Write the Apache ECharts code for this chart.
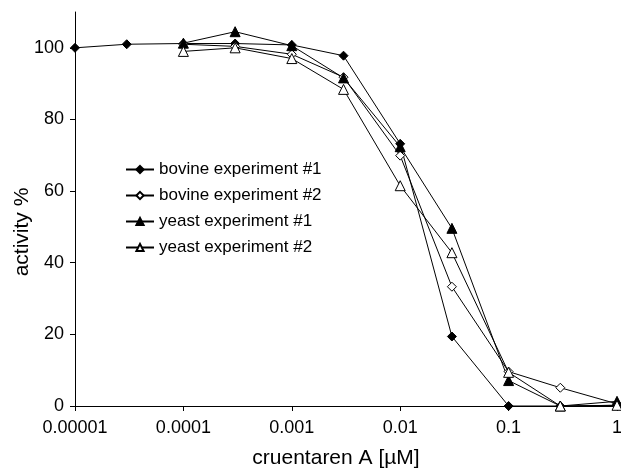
<!DOCTYPE html>
<html>
<head>
<meta charset="utf-8">
<script src="https://cdn.jsdelivr.net/npm/echarts@6/dist/echarts.min.js"></script>
<style>
  html, body { margin: 0; padding: 0; background: #fff; }
  #main { width: 621px; height: 470px; }
</style>
</head>
<body>
<div id="main"></div>
<script>
// concentrations (µM)
var conc = [0.00001, 0.00003, 0.0001, 0.0003, 0.001, 0.003, 0.01, 0.03, 0.1, 0.3, 1];
var bovine1 = [100, 101, 101.2, 101.2, 100.8, 97.8, 73.2, 19.4, 0, 0, 0.2];
var bovine2 = [null, null, 101, 100.4, 98.2, 91.8, 69.9, 33.3, 9.6, 5.1, 0.6];
var yeast1  = [null, null, 101.3, 104.5, 100.6, 91.6, 72.4, 49.6, 7.1, 0, 1.3];
var yeast2  = [null, null, 99, 100, 97, 88.4, 61.5, 42.8, 9.4, 0, 0.2];
var yTicks = [0, 20, 40, 60, 80, 100];

function pairs(vals) {
    var out = [];
    for (var i = 0; i < conc.length; i++) {
        if (vals[i] !== null) out.push([conc[i], vals[i]]);
    }
    return out;
}

var chart = echarts.init(document.getElementById('main'));
var font = 'Liberation Sans, Arial, sans-serif';

function mkSeries(name, vals, symbol, filled) {
    return {
        name: name,
        type: 'line',
        data: pairs(vals),
        symbol: symbol,
        symbolSize: symbol === 'diamond' ? 9 : 10,
        showAllSymbol: true,
        lineStyle: { color: '#000', width: 1 },
        itemStyle: { color: filled ? '#000' : '#fff', borderColor: '#000', borderWidth: 1 },
        emphasis: { disabled: true },
        animation: false
    };
}

var option = {
    animation: false,
    grid: { left: 75, right: 4, top: 12, bottom: 64, containLabel: false, outerBoundsMode: 'none' },
    legend: {
        orient: 'vertical',
        left: 120,
        top: 156,
        itemGap: 9,
        itemWidth: 28,
        itemHeight: 9,
        textStyle: { fontFamily: font, fontSize: 17, color: '#000' },
        data: ['bovine experiment #1', 'bovine experiment #2', 'yeast experiment #1', 'yeast experiment #2']
    },
    xAxis: {
        type: 'log',
        logBase: 10,
        min: 0.00001,
        max: 1,
        name: 'cruentaren A [µM]',
        nameLocation: 'middle',
        nameGap: 42,
        nameMoveOverlap: false,
        nameTextStyle: { fontFamily: font, fontSize: 21, color: '#000', padding: [0, 20, 0, 0] },
        axisLine: { lineStyle: { color: '#000', width: 1 } },
        axisTick: { show: true, inside: false, length: 5, lineStyle: { color: '#000' } },
        minorTick: { show: false },
        splitLine: { show: false },
        axisLabel: {
            fontFamily: font, fontSize: 18, color: '#000', margin: 13,
            formatter: function (v) {
                if (v >= 1) return String(Math.round(v));
                var d = Math.round(-Math.log10(v));
                return v.toFixed(d);
            }
        }
    },
    yAxis: {
        type: 'value',
        min: 0,
        max: 110,
        interval: 10,
        name: 'activity %',
        nameLocation: 'middle',
        nameGap: 42,
        nameMoveOverlap: false,
        nameTextStyle: { fontFamily: font, fontSize: 21, color: '#000', padding: [0, 46, 0, 0] },
        axisLine: { show: true, lineStyle: { color: '#000', width: 1 } },
        axisTick: { show: true, length: 5, lineStyle: { color: '#000' }, customValues: yTicks },
        splitLine: { show: false },
        axisLabel: { fontFamily: font, fontSize: 18, color: '#000', margin: 11, customValues: yTicks }
    },
    series: [
        mkSeries('bovine experiment #1', bovine1, 'diamond', true),
        mkSeries('bovine experiment #2', bovine2, 'diamond', false),
        mkSeries('yeast experiment #1', yeast1, 'triangle', true),
        mkSeries('yeast experiment #2', yeast2, 'triangle', false)
    ]
};
chart.setOption(option);
</script>
</body>
</html>
